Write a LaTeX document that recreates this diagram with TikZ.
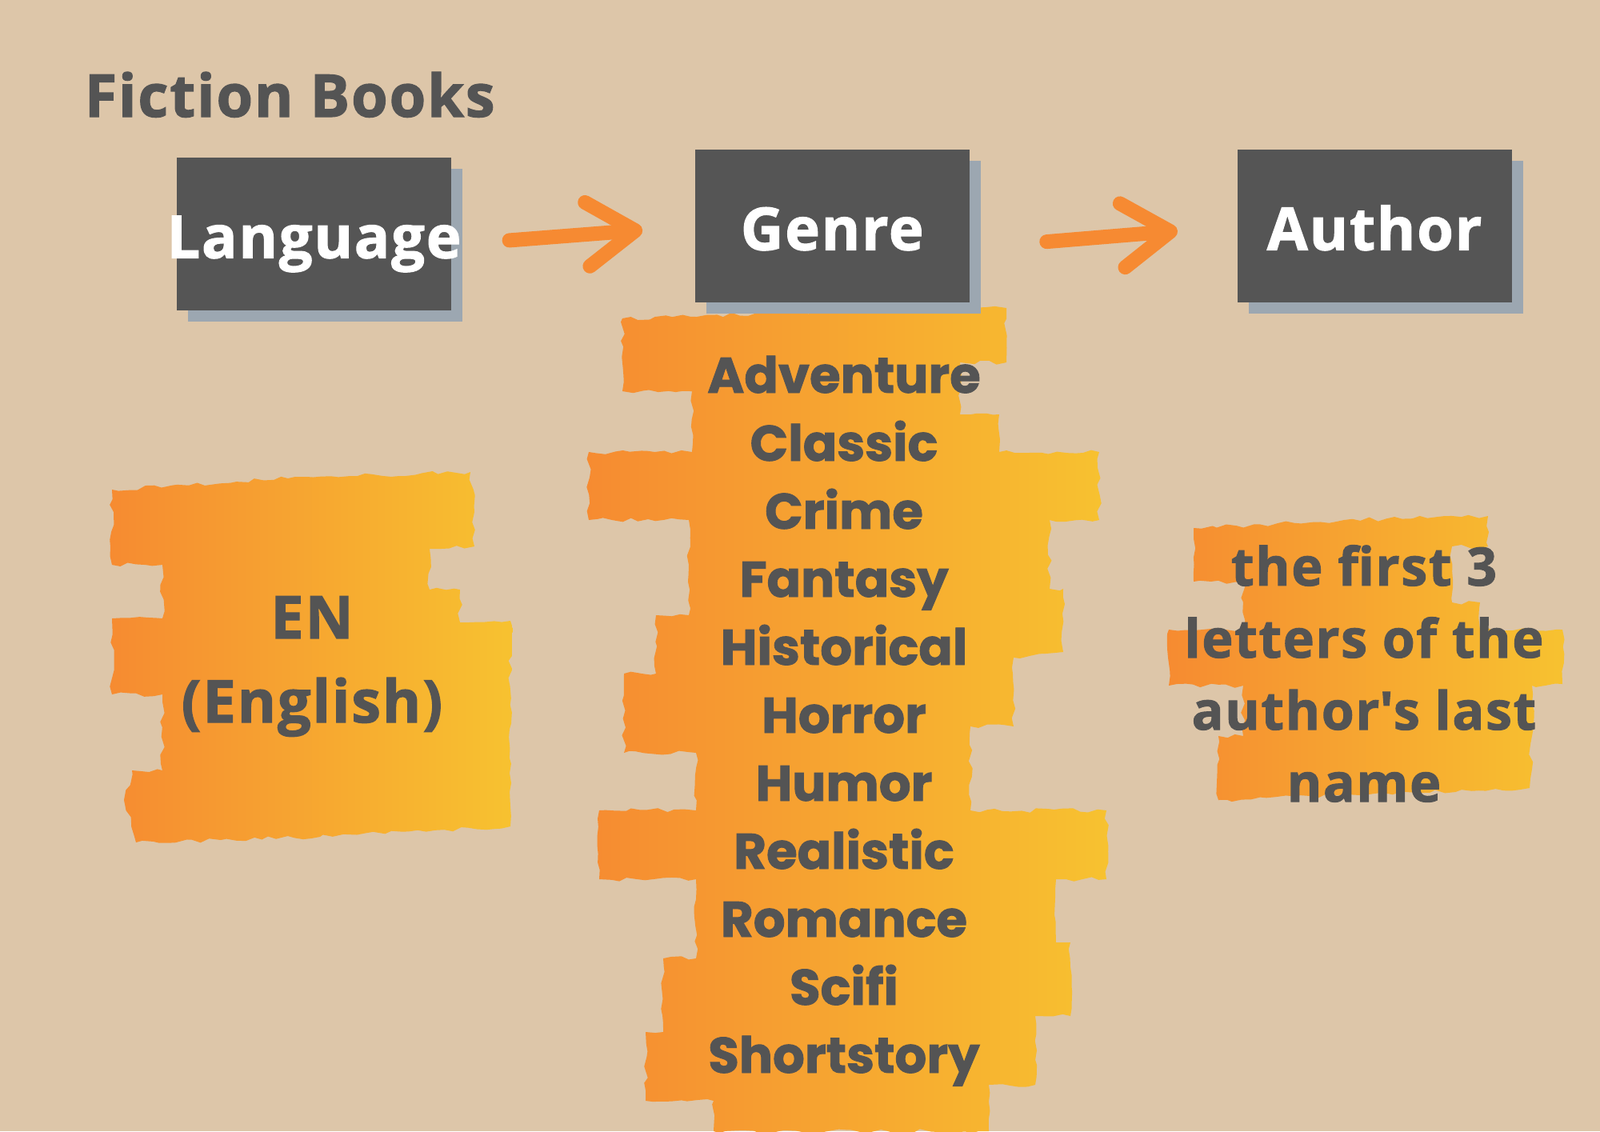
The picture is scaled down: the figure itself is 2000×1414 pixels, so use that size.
\documentclass[tikz,border=0pt]{standalone}
\usepackage{fontspec}
\newfontfamily\opensans{Open Sans}[LetterSpace=2.5, BoldFeatures={FakeBold=1.6}]
\newfontfamily\poppins{Poppins}[BoldFeatures={FakeBold=1.4}]
\usetikzlibrary{arrows.meta,positioning,shadows,decorations.pathmorphing}

\definecolor{paper}{RGB}{221,198,169}
\definecolor{boxgray}{RGB}{85,85,85}
\definecolor{shadowgray}{RGB}{156,167,177}
\definecolor{inkgray}{RGB}{84,84,84}
\definecolor{paintleft}{RGB}{246,139,49}
\definecolor{paintright}{RGB}{247,194,48}
\definecolor{arroworange}{RGB}{246,138,50}

\newcommand{\boxtext}[1]{\makebox[3.43cm]{#1}}

\tikzset{
  catbox/.style={fill=boxgray, text=white, minimum width=3.43cm, minimum height=1.9cm,
    inner sep=0pt, text height=0.6cm, text depth=0cm,
    font=\opensans\bfseries\fontsize{21}{25}\selectfont,
    drop shadow={shadow xshift=0.14cm, shadow yshift=-0.14cm, fill=shadowgray, opacity=1}},
  paint/.style={left color=paintleft, right color=paintright, draw=none,
    decorate, decoration={random steps, segment length=3pt, amplitude=0.8pt}},
  brush arrow/.style={draw=arroworange, line width=0.18cm, line cap=round,
    -{Straight Barb[length=0.6cm, width=0.8cm, round]}},
  paintlabel/.style={text=inkgray, align=center, inner sep=0pt,
    font=\opensans\bfseries\fontsize{21}{29.9}\selectfont},
  genreitem/.style={text=inkgray, inner sep=0pt, anchor=base,
    font=\poppins\bfseries\fontsize{17.8}{22}\selectfont},
}

\begin{document}
\begin{tikzpicture}[x=0.01cm, y=-0.01cm]
  \fill[paper] (0,0) rectangle (2000,1414);
  \useasboundingbox (0,0) rectangle (2000,1414);

  % paint strokes behind the labels
  \path[paint] (140,612) -- (360,598) -- (588,590) -- (593,640) -- (593,683) -- (537,686)
    -- (537,737) -- (575,737) -- (575,778) -- (638,776) -- (638,1033) -- (400,1046)
    -- (170,1053) -- (155,1000) -- (165,963) -- (203,963) -- (203,868) -- (140,868)
    -- (140,773) -- (203,773) -- (203,706) -- (140,706) -- cycle;
  \path[paint] (778,398) -- (1000,390) -- (1258,385) -- (1258,453) -- (1200,453) -- (1200,518)
    -- (1249,518) -- (1249,565) -- (1374,565) -- (1374,650) -- (1312,650) -- (1312,736)
    -- (1329,736) -- (1329,815) -- (1267,822) -- (1267,908) -- (1213,908) -- (1213,1013)
    -- (1383,1013) -- (1383,1099) -- (1320,1099) -- (1320,1178) -- (1338,1178) -- (1338,1270)
    -- (1294,1270) -- (1294,1356) -- (1236,1356) -- (1236,1414) -- (892,1414) -- (892,1376)
    -- (807,1376) -- (807,1290) -- (829,1290) -- (829,1198) -- (870,1198) -- (870,1099)
    -- (749,1099) -- (749,1013) -- (870,1013) -- (870,941) -- (780,941) -- (780,842)
    -- (820,842) -- (820,769) -- (861,769) -- (861,650) -- (736,650) -- (736,565)
    -- (865,565) -- (865,489) -- (778,489) -- cycle;
  \path[paint] (1492,660) -- (1680,650) -- (1860,645) -- (1860,683) -- (1815,683) -- (1815,753)
    -- (1850,753) -- (1850,787) -- (1953,787) -- (1953,855) -- (1915,857) -- (1915,920)
    -- (1912,985) -- (1700,994) -- (1523,1000) -- (1523,920) -- (1554,920) -- (1554,857)
    -- (1461,857) -- (1461,787) -- (1554,787) -- (1554,727) -- (1492,727) -- cycle;

  \node[anchor=base west, text=inkgray, inner sep=0pt,
    font=\opensans\bfseries\fontsize{21}{25}\selectfont] (title) at (105,146) {Fiction Books};

  \node[catbox] (lang) at (392.5,292.5) {\boxtext{Language}};
  \node[catbox, right=3.03cm of lang, yshift=0.1cm] (genre) {\boxtext{Genre}};
  \node[catbox, right=3.33cm of genre] (author) {\boxtext{Author}};

  \draw[brush arrow, shorten <=0.72cm, shorten >=0.65cm] ([yshift=-0.135cm]lang.east) -- (genre.west);
  \draw[brush arrow, shorten <=0.96cm, shorten >=0.74cm] ([yshift=-0.275cm]genre.east) -- (author.west);

  \node[paintlabel] (lang code) at (390,833) {EN\\(English)};
  \node[paintlabel, font=\opensans\bfseries\fontsize{18.8}{25.6}\selectfont] (author rule) at (1705,842)
    {the first 3\\letters of the\\author\textquotesingle s last\\name};

  \foreach \g [count=\i from 0] in {Adventure,Classic,Crime,Fantasy,Historical,Horror,Humor,Realistic,Romance,Scifi,Shortstory}
    \node[genreitem] (genre \i) at (1055,{491+85*\i}) {\g};
\end{tikzpicture}
\end{document}
